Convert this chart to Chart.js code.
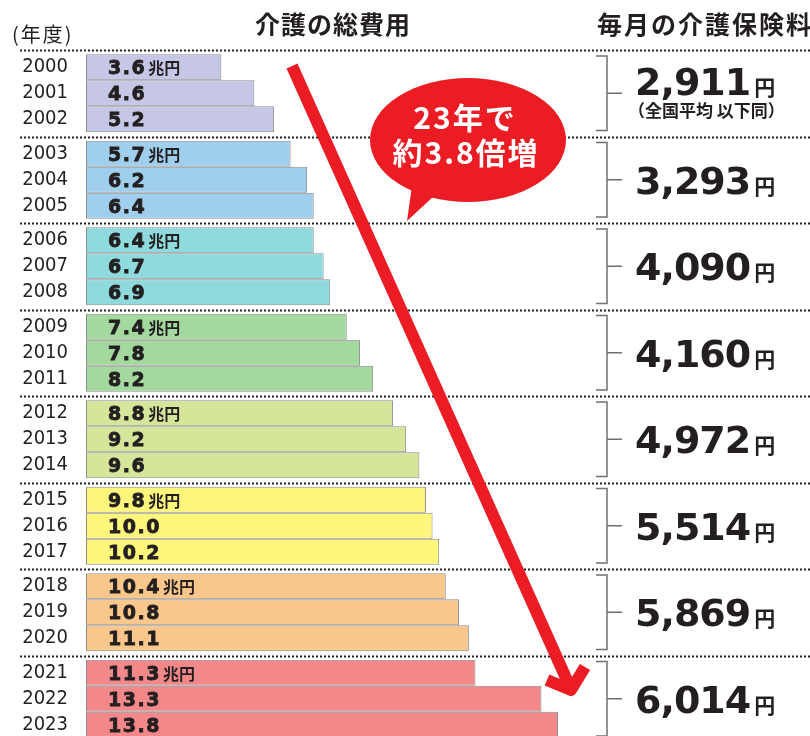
<!DOCTYPE html>
<html lang="ja">
<head>
<meta charset="utf-8">
<title>介護の総費用と毎月の介護保険料</title>
<script src="https://cdn.jsdelivr.net/npm/chart.js@4"></script>
<style>
  html, body { margin: 0; padding: 0; background: #fff; overflow: hidden; }
  #wrap { width: 810px; height: 736px; overflow: hidden; }
</style>
</head>
<body>
<div id="wrap"><canvas id="myChart" width="810" height="742"></canvas></div>
<script>
const years = [2000, 2001, 2002, 2003, 2004, 2005, 2006, 2007, 2008, 2009, 2010, 2011,
               2012, 2013, 2014, 2015, 2016, 2017, 2018, 2019, 2020, 2021, 2022, 2023];
// 介護の総費用（兆円）
const costs = [3.6, 4.6, 5.2, 5.7, 6.2, 6.4, 6.4, 6.7, 6.9, 7.4, 7.8, 8.2,
               8.8, 9.2, 9.6, 9.8, 10.0, 10.2, 10.4, 10.8, 11.1, 11.3, 13.3, 13.8];
// 毎月の介護保険料（円、全国平均）
const premiums = [2911, 3293, 4090, 4160, 4972, 5514, 5869, 6014];
const periodColors = ["#c6c7e6", "#9fcfec", "#8edadd", "#a3d89e", "#d5e59a", "#fff67c", "#f9c68b", "#f3888b"];

const red = "#ec1c24";
const ink = "#231f20";
const graphics = document.getElementById("myChart");

// 3年ごとの期間
const periodLabels = premiums.map((p, g) => years.slice(g * 3, g * 3 + 3).map(String));
const datasets = [0, 1, 2].map((k) => ({
    data: costs.filter((c, i) => i % 3 === k),
    backgroundColor: periodColors,
    borderColor: "#8c8c8c",
    borderWidth: 1,
    borderSkipped: false,
    base: -0.5,
    categoryPercentage: 0.9,
    barPercentage: 1
}));

const decorations = {
    id: "decorations",
    afterDraw(chart) {
        const ctx = chart.ctx;
        const area = chart.chartArea;
        const yScale = chart.scales.y;
        const step = (area.bottom - area.top) / premiums.length;
        ctx.save();

        // 見出し
        ctx.fillStyle = ink;
        ctx.textBaseline = "middle";
        ctx.font = '20px "Noto Sans CJK JP"';
        ctx.textAlign = "left";
        ctx.letterSpacing = "2px";
        ctx.fillText("(年度)", 12, 34);
        ctx.font = 'bold 25px "Noto Sans CJK JP"';
        ctx.letterSpacing = "1px";
        ctx.fillText("介護の総費用", 255, 24);
        ctx.letterSpacing = "2px";
        ctx.fillText("毎月の介護保険料", 597, 24);
        ctx.letterSpacing = "0px";

        // 点線
        ctx.strokeStyle = "#222";
        ctx.lineWidth = 2;
        ctx.setLineDash([2, 2]);
        for (let g = 0; g <= premiums.length; g++) {
            const y = Math.round(area.top + g * step) + 0.5;
            ctx.beginPath();
            ctx.moveTo(20, y);
            ctx.lineTo(810, y);
            ctx.stroke();
        }
        ctx.setLineDash([]);

        // 棒の数値
        ctx.textBaseline = "alphabetic";
        ctx.fillStyle = ink;
        chart.data.datasets.forEach((ds, k) => {
            chart.getDatasetMeta(k).data.forEach((bar, g) => {
                const txt = ds.data[g].toFixed(1);
                ctx.font = 'bold 19px "DejaVu Sans"';
                ctx.letterSpacing = "1.5px";
                ctx.lineWidth = 0.8;
                ctx.strokeStyle = ink;
                ctx.fillText(txt, area.left + 22, bar.y + 7);
                ctx.strokeText(txt, area.left + 22, bar.y + 7);
                if (k === 0) {
                    const w = ctx.measureText(txt).width;
                    ctx.letterSpacing = "0px";
                    ctx.font = 'bold 16px "Noto Sans CJK JP"';
                    ctx.fillText("兆円", area.left + 22 + w + 2, bar.y + 7);
                }
            });
        });
        ctx.letterSpacing = "0px";

        // かっこ線と保険料
        premiums.forEach((p, g) => {
            const top = area.top + g * step;
            const mid = yScale.getPixelForValue(g);
            const bottom = top + step;
            ctx.strokeStyle = "#707070";
            ctx.lineWidth = 1.5;
            ctx.beginPath();
            ctx.moveTo(596, top + 6);
            ctx.lineTo(607, top + 6);
            ctx.lineTo(607, bottom - 6);
            ctx.lineTo(596, bottom - 6);
            ctx.moveTo(607, mid);
            ctx.lineTo(622, mid);
            ctx.stroke();

            const base = g === 0 ? mid + 2 : mid + 14;
            const num = p.toLocaleString("en-US");
            ctx.fillStyle = ink;
            ctx.font = 'bold 38px "DejaVu Sans"';
            ctx.letterSpacing = "-1px";
            ctx.fillText(num, 635, base);
            const w = ctx.measureText(num).width;
            ctx.letterSpacing = "0px";
            ctx.font = 'bold 21px "Noto Sans CJK JP"';
            ctx.fillText("円", 635 + w + 4, base);
            if (g === 0) {
                ctx.font = 'bold 17px "Noto Sans CJK JP"';
                ctx.fillText("（全国平均 以下同）", 628, base + 22);
            }
        });

        // 矢印
        ctx.strokeStyle = red;
        ctx.lineWidth = 12;
        ctx.lineCap = "butt";
        ctx.beginPath();
        ctx.moveTo(292, 66);
        ctx.lineTo(570, 687);
        ctx.stroke();
        ctx.lineJoin = "round";
        ctx.beginPath();
        ctx.moveTo(547, 680);
        ctx.lineTo(571, 690);
        ctx.lineTo(585, 667);
        ctx.stroke();

        // 吹き出し
        ctx.fillStyle = red;
        ctx.beginPath();
        ctx.ellipse(468, 140, 98, 62, 0, 0, Math.PI * 2);
        ctx.fill();
        ctx.beginPath();
        ctx.moveTo(412, 186);
        ctx.lineTo(407, 221);
        ctx.lineTo(434, 196);
        ctx.closePath();
        ctx.fill();
        ctx.fillStyle = "#fff";
        ctx.textAlign = "center";
        ctx.textBaseline = "middle";
        ctx.font = 'bold 30px "Noto Sans CJK JP"';
        ctx.letterSpacing = "2px";
        ctx.fillText("23年で", 465, 118);
        ctx.fillText("約3.8倍増", 466, 153);
        ctx.letterSpacing = "0px";

        ctx.restore();
    }
};

const config = {
    type: "bar",
    data: { labels: periodLabels, datasets: datasets },
    options: {
        indexAxis: "y",
        responsive: false,
        animation: false,
        layout: { padding: { top: 50, right: 220, bottom: 0, left: 0 } },
        plugins: { legend: { display: false }, tooltip: { enabled: false } },
        scales: {
            x: { display: false, min: -0.5, max: 14.77 },
            y: {
                grid: { display: false, drawTicks: false },
                border: { display: false },
                afterFit: (scale) => {
                    scale.width = 86;
                    scale.paddingTop = 0;
                    scale.paddingBottom = 0;
                },
                ticks: {
                    autoSkip: false,
                    padding: 18,
                    color: ink,
                    font: { family: '"DejaVu Sans Condensed", "DejaVu Sans"', size: 20, lineHeight: 1.3 }
                }
            }
        }
    },
    plugins: [decorations]
};

new Chart(graphics, config);
</script>
</body>
</html>
